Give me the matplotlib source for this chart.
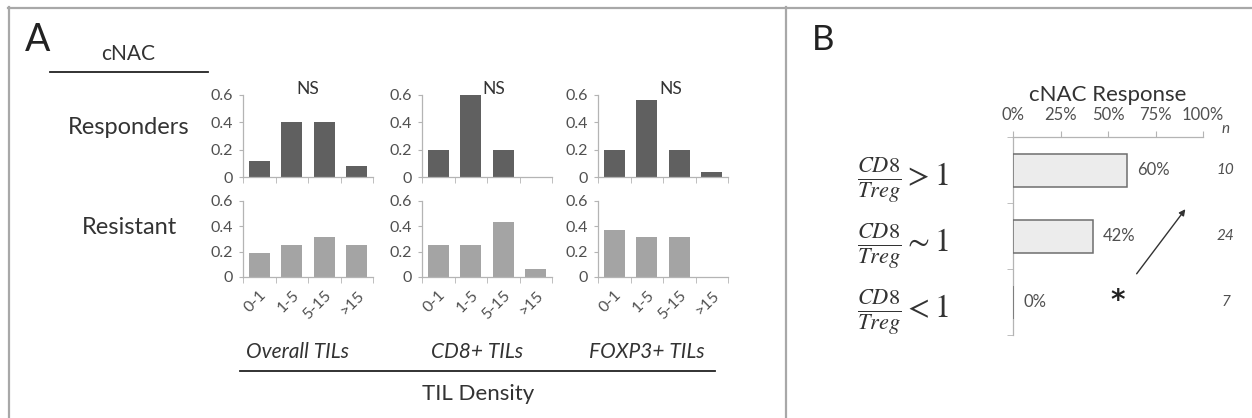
import numpy as np
import matplotlib
matplotlib.use("Agg")
import matplotlib.pyplot as plt

plt.rcParams['font.family'] = ['Lato', 'DejaVu Sans']

W, H = 1252, 418

# panel A data (fraction of patients per TIL density bin)
categories = ['0-1', '1-5', '5-15', '>15']
groups = ['Overall TILs', 'CD8+ TILs', 'FOXP3+ TILs']
responders = [
    [0.12, 0.40, 0.40, 0.08],
    [0.20, 0.60, 0.20, 0.0],
    [0.20, 0.56, 0.20, 0.04],
]
resistant = [
    [0.1875, 0.25, 0.3125, 0.25],
    [0.25, 0.25, 0.4375, 0.0625],
    [0.375, 0.3125, 0.3125, 0.0],
]

# panel B data
ratio_labels = [r'$\frac{CD8}{Treg} > 1$', r'$\frac{CD8}{Treg} \sim 1$', r'$\frac{CD8}{Treg} < 1$']
response_pct = [60, 42, 0]
n_patients = [10, 24, 7]
pct_ticks = [0, 25, 50, 75, 100]

dark = '#606060'
light = '#a4a4a4'
axis_col = '#b4b4b4'
txt = '#333333'
tick_txt = '#505050'


def rect(x0, y0, x1, y1):
    return [x0 / W, 1 - y1 / H, (x1 - x0) / W, (y1 - y0) / H]


fig = plt.figure(figsize=(W / 100, H / 100), dpi=100)

# background overlay in pixel coordinates
bg = fig.add_axes([0, 0, 1, 1])
bg.set_xlim(0, W)
bg.set_ylim(H, 0)
bg.axis('off')
frame = '#a8a8a8'
bg.plot([8, W], [7.5, 7.5], color=frame, lw=1.6)
bg.plot([8.5, 8.5], [7, H], color=frame, lw=1.6)
bg.plot([786, 786], [7, H], color=frame, lw=1.6)

bg.text(38, 40, 'A', fontsize=27, ha='center', va='center', color='#222222')
bg.text(823, 40, 'B', fontsize=25, ha='center', va='center', color='#222222')

bg.text(128, 54, 'cNAC', fontsize=15, ha='center', va='center', color=txt)
bg.plot([50, 208], [72, 72], color='#222222', lw=1.3)
bg.text(129, 128, 'Responders', fontsize=17, ha='center', va='center', color=txt)
bg.text(130, 228, 'Resistant', fontsize=17, ha='center', va='center', color=txt)

col_x = [(243, 373), (422, 552), (598, 728)]
group_x = [298, 477, 647]
ns_x = [1.5, 1.72, 1.75]
x = np.arange(len(categories))

for j in range(3):
    x0, x1 = col_x[j]
    for row, (vals, color, y0, y1) in enumerate([(responders[j], dark, 95, 177),
                                                   (resistant[j], light, 201, 277)]):
        ax = fig.add_axes(rect(x0, y0, x1, y1))
        ax.patch.set_alpha(0)
        ax.bar(x, vals, width=0.65, color=color)
        ax.set_xlim(-0.5, 3.5)
        ax.set_ylim(0, 0.6)
        ax.set_yticks([0, 0.2, 0.4, 0.6], ['0', '0.2', '0.4', '0.6'])
        for s in ['top', 'right']:
            ax.spines[s].set_visible(False)
        for s in ['left', 'bottom']:
            ax.spines[s].set_color(axis_col)
            ax.spines[s].set_linewidth(0.9)
        ax.tick_params(axis='y', length=3, color=axis_col, labelcolor=tick_txt,
                       labelsize=11.5, pad=4)
        ax.set_xticks(np.arange(-0.5, 4, 1), minor=True)
        ax.tick_params(axis='x', which='minor', length=4, color=axis_col)
        if row == 0:
            ax.set_xticks(x, [])
            ax.tick_params(axis='x', which='major', length=0)
            ax.text(ns_x[j], 0.645, 'NS', fontsize=12.5, ha='center', va='center',
                    color=txt, clip_on=False)
        else:
            ax.set_xticks(x, categories)
            ax.tick_params(axis='x', which='major', length=0, labelsize=11.5,
                           labelcolor=tick_txt, pad=8)
            for lab in ax.get_xticklabels():
                lab.set_rotation(45)
                lab.set_ha('right')
                lab.set_rotation_mode('anchor')
    bg.text(group_x[j], 352, groups[j], fontsize=15, style='italic',
            ha='center', va='center', color=txt)

bg.plot([240, 715], [371, 371], color='#222222', lw=1.3)
bg.text(478, 394, 'TIL Density', fontsize=16, ha='center', va='center', color=txt)

# panel B
axb = fig.add_axes(rect(1013, 137, 1203, 335))
axb.patch.set_alpha(0)
pos = np.arange(len(response_pct))
axb.barh(pos, [p / 100 for p in response_pct], height=0.5,
         color='#ececec', edgecolor='#6e6e6e', linewidth=1.1, zorder=3)
axb.set_xlim(0, 1)
axb.set_ylim(2.5, -0.5)
axb.xaxis.tick_top()
axb.set_xticks([p / 100 for p in pct_ticks], [f'{p}%' for p in pct_ticks])
axb.tick_params(axis='x', length=4, color=axis_col, labelcolor=tick_txt,
                labelsize=12, pad=6)
axb.set_yticks(pos, ratio_labels)
axb.tick_params(axis='y', which='major', length=0, pad=46, labelsize=23,
                labelcolor=txt)
for lab in axb.get_yticklabels():
    lab.set_math_fontfamily('stix')
axb.set_yticks(np.arange(-0.5, 3, 1), minor=True)
axb.tick_params(axis='y', which='minor', length=4, color=axis_col)
for s in ['bottom', 'right']:
    axb.spines[s].set_visible(False)
for s in ['top', 'left']:
    axb.spines[s].set_color(axis_col)
    axb.spines[s].set_linewidth(0.9)

for i, p in enumerate(response_pct):
    axb.text(p / 100 + 0.055, i, f'{p}%', fontsize=12, va='center', ha='left',
             color=tick_txt)
    axb.text(1.12, i, str(n_patients[i]), fontsize=11, style='italic',
             va='center', ha='center', color=tick_txt, clip_on=False)
axb.text(1.12, -0.62, 'n', fontsize=11, style='italic', va='center',
         ha='center', color=tick_txt, clip_on=False)
axb.text(0.55, 1.98, '*', fontsize=20, va='center', ha='center',
         color='#222222', family='DejaVu Sans', weight='bold')
axb.annotate('', xy=(0.916, 0.56), xytext=(0.642, 1.606),
             arrowprops=dict(arrowstyle='-|>', color='#333333', lw=1.0,
                             mutation_scale=9))
axb.set_title('cNAC Response', fontsize=16, color=txt, pad=26)

fig.savefig('out.png', dpi=100)
